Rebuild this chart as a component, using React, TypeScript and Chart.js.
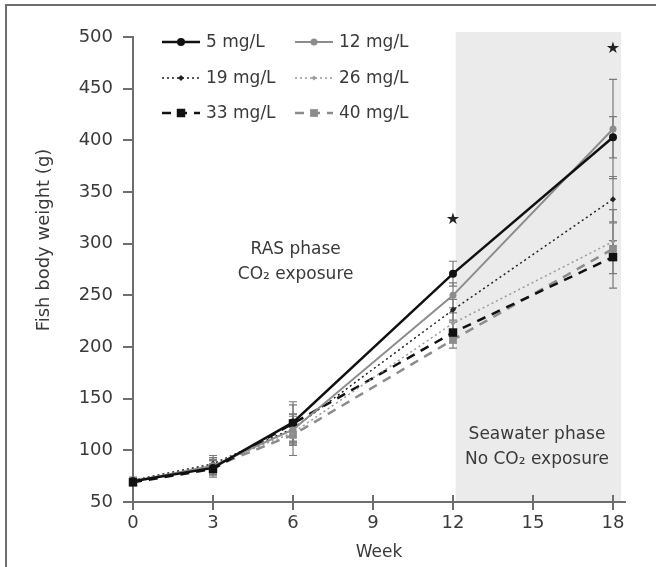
import React, { useEffect, useRef } from "react";
import { Chart, registerables } from "chart.js";

Chart.register(...registerables);

// ---------- data ----------
const weeks = [0, 3, 6, 12, 18];
const seriesNames = ["5 mg/L", "12 mg/L", "19 mg/L", "26 mg/L", "33 mg/L", "40 mg/L"];
const weight5 = [70, 83, 127, 271, 403];
const weight12 = [70, 85, 120, 250, 411];
const weight19 = [71, 87, 121, 236, 343];
const weight26 = [70, 86, 117, 223, 302];
const weight33 = [69, 82, 126, 214, 287];
const weight40 = [70, 84, 115, 207, 295];
const sd5 = [3, 7, 20, 12, 20];
const sd12 = [3, 8, 15, 12, 48];
const sd19 = [3, 8, 12, 10, 22];
const sd26 = [3, 7, 12, 10, 18];
const sd33 = [3, 8, 18, 10, 16];
const sd40 = [3, 7, 20, 8, 38];
const xTickValues = [0, 3, 6, 9, 12, 15, 18];
const yTickValues = [50, 100, 150, 200, 250, 300, 350, 400, 450, 500];
const seawaterPhase = [12.1, 18.3];
const starWeeks = [12, 18];
const starValues = [323, 489];
const rasNote = ["RAS phase", "CO\u2082 exposure"];
const seaNote = ["Seawater phase", "No CO\u2082 exposure"];
const rasNotePos = [6.1, 294];
const seaNotePos = [15.15, 115];
const xTitle = "Week";
const yTitle = "Fish body weight (g)";

const allWeights = [weight5, weight12, weight19, weight26, weight33, weight40];
const allSd = [sd5, sd12, sd19, sd26, sd33, sd40];

// ---------- styles ----------
const FONT = '"DejaVu Sans", "Liberation Sans", Arial, sans-serif';
const TEXT = "#3a3a3a";
const AXIS = "#6e6e6e";
const styles = [
  { color: "#111111", width: 2.5, dash: [] as number[], point: "circle", r: 4 },
  { color: "#8c8c8c", width: 2, dash: [] as number[], point: "circle", r: 3.5 },
  { color: "#222222", width: 1.5, dash: [2, 3], point: "rectRot", r: 3 },
  { color: "#9a9a9a", width: 1.5, dash: [2, 3], point: "rectRot", r: 2.5 },
  { color: "#111111", width: 2.5, dash: [9, 7], point: "rect", r: 6 },
  { color: "#8c8c8c", width: 2.5, dash: [9, 7], point: "rect", r: 5.5 },
];

function drawMarker(ctx: CanvasRenderingContext2D, kind: string, x: number, y: number, r: number, color: string) {
  ctx.save();
  ctx.setLineDash([]);
  ctx.fillStyle = color;
  ctx.beginPath();
  if (kind === "circle") {
    ctx.arc(x, y, r, 0, Math.PI * 2);
  } else if (kind === "rectRot") {
    ctx.moveTo(x, y - r);
    ctx.lineTo(x + r, y);
    ctx.lineTo(x, y + r);
    ctx.lineTo(x - r, y);
    ctx.closePath();
  } else {
    const s = r * Math.SQRT1_2;
    ctx.rect(x - s, y - s, 2 * s, 2 * s);
  }
  ctx.fill();
  ctx.restore();
}

const decorPlugin = {
  id: "decor",
  beforeDraw(chart: any) {
    const { ctx, chartArea: a, scales } = chart;
    const x = scales.x;
    ctx.save();
    // outer frame
    ctx.strokeStyle = AXIS;
    ctx.lineWidth = 2;
    ctx.beginPath();
    ctx.moveTo(6, chart.height);
    ctx.lineTo(6, 5);
    ctx.lineTo(chart.width, 5);
    ctx.stroke();
    // seawater phase shading
    const x0 = x.getPixelForValue(seawaterPhase[0]);
    const x1 = x.getPixelForValue(seawaterPhase[1]);
    ctx.fillStyle = "#ebebeb";
    ctx.fillRect(x0, a.top - 5, x1 - x0, a.bottom - a.top + 5);
    ctx.restore();
  },
  beforeDatasetsDraw(chart: any) {
    const { ctx, scales } = chart;
    const x = scales.x;
    const y = scales.y;
    ctx.save();
    ctx.strokeStyle = "#7a7a7a";
    ctx.lineWidth = 1.2;
    allWeights.forEach((vals, i) => {
      vals.forEach((v, j) => {
        const px = x.getPixelForValue(weeks[j]);
        const top = y.getPixelForValue(v + allSd[i][j]);
        const bot = y.getPixelForValue(v - allSd[i][j]);
        ctx.beginPath();
        ctx.moveTo(px, top);
        ctx.lineTo(px, bot);
        ctx.moveTo(px - 4, top);
        ctx.lineTo(px + 4, top);
        ctx.moveTo(px - 4, bot);
        ctx.lineTo(px + 4, bot);
        ctx.stroke();
      });
    });
    ctx.restore();
  },
  afterDraw(chart: any) {
    const { ctx, chartArea: a, scales } = chart;
    const x = scales.x;
    const y = scales.y;
    ctx.save();
    // upper halves of x ticks
    ctx.strokeStyle = AXIS;
    ctx.lineWidth = 2;
    xTickValues.forEach((v) => {
      const px = Math.round(x.getPixelForValue(v));
      ctx.beginPath();
      ctx.moveTo(px, a.bottom);
      ctx.lineTo(px, a.bottom - 7);
      ctx.stroke();
    });
    // y title
    ctx.fillStyle = TEXT;
    ctx.font = `18px ${FONT}`;
    ctx.textAlign = "center";
    ctx.textBaseline = "middle";
    ctx.save();
    ctx.translate(44, 240);
    ctx.rotate(-Math.PI / 2);
    ctx.fillText(yTitle, 0, 0);
    ctx.restore();
    // phase notes
    ctx.font = `17px ${FONT}`;
    const notes: [string[], number[]][] = [
      [rasNote, rasNotePos],
      [seaNote, seaNotePos],
    ];
    notes.forEach(([lines, pos]) => {
      const px = x.getPixelForValue(pos[0]);
      const py = y.getPixelForValue(pos[1]);
      lines.forEach((t, k) => ctx.fillText(t, px, py + k * 25));
    });
    // stars
    ctx.fillStyle = "#222";
    ctx.font = `16px ${FONT}`;
    starWeeks.forEach((w, k) => {
      ctx.fillText("\u2605", x.getPixelForValue(w), y.getPixelForValue(starValues[k]));
    });
    // legend
    const colX = [162, 295];
    const rowY = [42, 78, 113];
    ctx.font = `17px ${FONT}`;
    ctx.textAlign = "left";
    seriesNames.forEach((name, i) => {
      const st = styles[i];
      const lx = colX[i % 2];
      const ly = rowY[Math.floor(i / 2)];
      ctx.save();
      ctx.strokeStyle = st.color;
      ctx.lineWidth = st.width;
      ctx.setLineDash(st.dash);
      ctx.beginPath();
      ctx.moveTo(lx, ly);
      ctx.lineTo(lx + 38, ly);
      ctx.stroke();
      ctx.restore();
      drawMarker(ctx, st.point, lx + 19, ly, st.r, st.color);
      ctx.fillStyle = TEXT;
      ctx.fillText(name, lx + 44, ly + 1);
    });
    ctx.restore();
  },
};

export default function App() {
  const ref = useRef<HTMLCanvasElement | null>(null);
  useEffect(() => {
    if (!ref.current) return;
    const datasets = allWeights.map((vals, i) => ({
      label: seriesNames[i],
      data: vals.map((v, j) => ({ x: weeks[j], y: v })),
      borderColor: styles[i].color,
      backgroundColor: styles[i].color,
      borderWidth: styles[i].width,
      borderDash: styles[i].dash,
      pointStyle: styles[i].point,
      pointRadius: styles[i].r,
      pointBorderWidth: 0,
      pointBackgroundColor: styles[i].color,
      tension: 0,
      fill: false,
      clip: false as any,
    }));
    const chart = new Chart(ref.current, {
      type: "line",
      data: { datasets },
      plugins: [decorPlugin],
      options: {
        responsive: false,
        animation: false,
        devicePixelRatio: 1,
        layout: { padding: { top: 37, right: 31, left: 0, bottom: 0 } },
        plugins: { legend: { display: false }, tooltip: { enabled: false } },
        scales: {
          x: {
            type: "linear",
            min: 0,
            max: 18.45,
            afterBuildTicks: (s: any) => {
              s.ticks = xTickValues.map((v) => ({ value: v }));
            },
            afterFit: (s: any) => {
              s.height = 65;
            },
            grid: { drawOnChartArea: false, drawTicks: true, tickLength: 8, color: AXIS, lineWidth: 2 },
            border: { display: true, color: AXIS, width: 2 },
            ticks: { font: { family: FONT, size: 18 }, color: TEXT, padding: 3, maxRotation: 0 },
            title: { display: true, text: xTitle, font: { family: FONT, size: 17 }, color: TEXT, padding: { top: 0, bottom: 4 } },
          },
          y: {
            type: "linear",
            min: 50,
            max: 500,
            afterBuildTicks: (s: any) => {
              s.ticks = yTickValues.map((v) => ({ value: v }));
            },
            afterFit: (s: any) => {
              s.width = 133;
            },
            grid: { drawOnChartArea: false, drawTicks: true, tickLength: 10, color: AXIS, lineWidth: 2 },
            border: { display: true, color: AXIS, width: 2 },
            ticks: { font: { family: FONT, size: 18 }, color: TEXT, padding: 10 },
            title: { display: false },
          },
        },
      } as any,
    });
    return () => chart.destroy();
  }, []);
  return (
    <div style={{ position: "fixed", left: 0, top: 0, width: 656, height: 567, background: "#fff" }}>
      <canvas ref={ref} width={656} height={567} style={{ display: "block" }} />
    </div>
  );
}
